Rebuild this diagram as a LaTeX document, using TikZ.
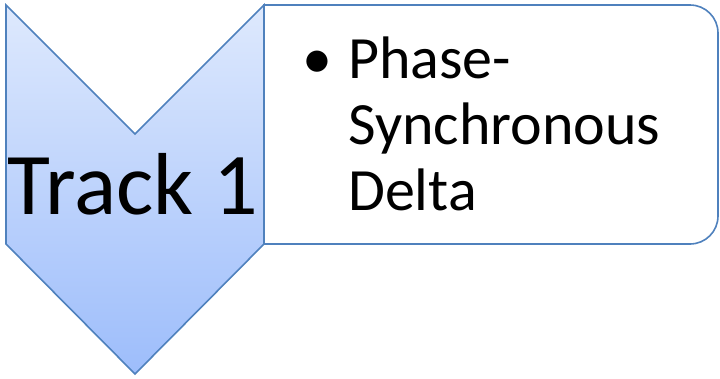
\documentclass[tikz,border=0pt]{standalone}
\usepackage{fontspec}
\setmainfont{Carlito}
\definecolor{edgeblue}{HTML}{4F81BD}
\definecolor{topblue}{HTML}{DEE9FD}
\definecolor{botblue}{HTML}{9DBDFB}
\tikzset{
  shapeline/.style={draw=edgeblue, line width=1.6pt, line join=miter},
  bigtext/.style={font=\fontsize{88}{88}\selectfont, inner sep=0pt, text=black},
  listtext/.style={font=\fontsize{60}{66}\selectfont, inner sep=0pt, text=black, align=left},
}
\begin{document}
\begin{tikzpicture}[x=1pt,y=-1pt]
\useasboundingbox (0,0) rectangle (720,378);
% right rounded box
\path[shapeline, fill=white] (264,5) -- (690,5) .. controls (705.5,5) and (718,17.5) .. (718,33) -- (718,216) .. controls (718,231.5) and (705.5,244) .. (690,244) -- (264,244) -- cycle;
% chevron
\path[shapeline, top color=topblue, bottom color=botblue] (6,5) -- (135,134) -- (264,5) -- (264,244) -- (135,374) -- (6,244) -- cycle;
\node[bigtext, anchor=base] (track) at (133,214) {Track 1};
\node[listtext, anchor=base west] (list) at (302,210) {\makebox[46pt][l]{\textbullet}Phase-\\\hspace*{46pt}Synchronous\\\hspace*{46pt}Delta};
\end{tikzpicture}
\end{document}
